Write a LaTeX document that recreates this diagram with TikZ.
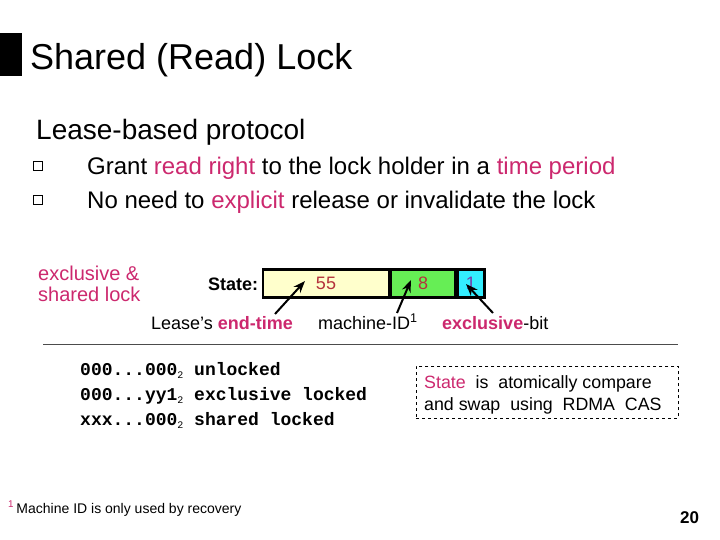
\documentclass[tikz,border=0pt]{standalone}
\usepackage{fontspec}
\setmainfont{Liberation Sans}
\setmonofont{Liberation Mono}
\usetikzlibrary{arrows.meta}
\definecolor{mag}{RGB}{204,40,110}
\definecolor{numred}{RGB}{180,50,60}
\definecolor{numpurple}{RGB}{120,60,170}
\definecolor{cellyellow}{RGB}{255,255,204}
\definecolor{cellgreen}{RGB}{102,238,85}
\definecolor{cellcyan}{RGB}{51,238,255}
\newcommand{\fs}[1]{\fontsize{#1}{#1}\selectfont}
\newcommand{\subtwo}{\raisebox{-3pt}{\mdseries\fontsize{10}{10}\selectfont 2}}
\tikzset{
  txt/.style={inner sep=0pt, anchor=base west},
  cell/.style={draw=black, line width=2.2pt, inner sep=0pt, minimum height=28pt, font=\fs{18}},
  ptr/.style={-{Stealth[length=12pt,width=9pt]}, line width=2pt},
  bulletbox/.style={draw=black, line width=0.6pt, minimum size=9pt, inner sep=0pt},
}
\begin{document}
\begin{tikzpicture}[x=1pt,y=-1pt]
\useasboundingbox (0,0) rectangle (720,540);
% title
\fill[black] (0,33) rectangle (22,76);
\node[txt, font=\fs{36}] (title) at (30,70) {Shared (Read) Lock};
\node[txt, font=\fs{28}] (lease) at (36,140) {Lease-based protocol};
\node[bulletbox] (b1) at (38,166) {};
\node[bulletbox] (b2) at (38,200) {};
\node[txt, font=\fs{24}] (t1) at (87,175) {Grant \textcolor{mag}{read right} to the lock holder in a \textcolor{mag}{time period}};
\node[txt, font=\fs{24}] (t2) at (87,208) {No need to \textcolor{mag}{explicit} release or invalidate the lock};
% left label
\node[txt, font=\fs{20}, text=mag, align=left, anchor=north west] (esl) at (38,266) {exclusive \&\\[1pt]shared lock};
\node[txt, font=\bfseries\fs{18}] (state) at (208,290) {State:};
% cells
\node[cell, fill=cellyellow, minimum width=126pt, text=numred] (c55) at (326,283.5) {55};
\node[cell, fill=cellgreen, minimum width=64pt, text=numred, anchor=west] (c8) at (c55.east) {8};
\node[cell, fill=cellcyan, minimum width=27pt, text=numpurple, anchor=west] (c1) at (c8.east) {1};
% labels below
\node[txt, font=\fs{18}] (endt) at (151,329) {Lease’s \textcolor{mag}{\bfseries end-time}};
\node[txt, font=\fs{18}] (mid) at (318,329) {machine-ID\textsuperscript{1}};
\node[txt, font=\fs{18}] (exb) at (442,329) {\textcolor{mag}{\bfseries exclusive}-bit};
% arrows
\coordinate (a1s) at (275,314);
\coordinate (a1e) at (305,281);
\coordinate (a2s) at (397,313);
\coordinate (a2e) at (411,280);
\coordinate (a3s) at (493,313);
\coordinate (a3e) at (466,284);
\draw[ptr] (a1s) -- (a1e);
\draw[ptr] (a2s) -- (a2e);
\draw[ptr] (a3s) -- (a3e);
% separator
\coordinate (sepL) at (43,344);
\coordinate (sepR) at (678,344);
\draw[line width=0.7pt, black!70] (sepL) -- (sepR);
% codes
\node[txt, font=\ttfamily\bfseries\fs{18}] (m1) at (80,375) {000...000\subtwo{} unlocked};
\node[txt, font=\ttfamily\bfseries\fs{18}] (m2) at (80,400) {000...yy1\subtwo{} exclusive locked};
\node[txt, font=\ttfamily\bfseries\fs{18}] (m3) at (80,425) {xxx...000\subtwo{} shared locked};
% dashed box
\node[draw=black, dashed, line width=0.7pt, minimum width=262pt, minimum height=52pt, anchor=north west] (cas) at (416,366) {};
\node[txt, font=\fs{17.8}] (cas1) at (424,388) {\textcolor{mag}{State}~ is~ atomically compare};
\node[txt, font=\fs{17.8}] (cas2) at (424,410) {and swap~ using~ RDMA~ CAS};
% footnote
\node[txt, font=\fs{14}] (fn) at (8,513) {\textcolor{mag}{\textsuperscript{1}}\,Machine ID is only used by recovery};
\node[txt, font=\bfseries\fs{17}] (pg) at (680,523) {20};
\end{tikzpicture}
\end{document}
